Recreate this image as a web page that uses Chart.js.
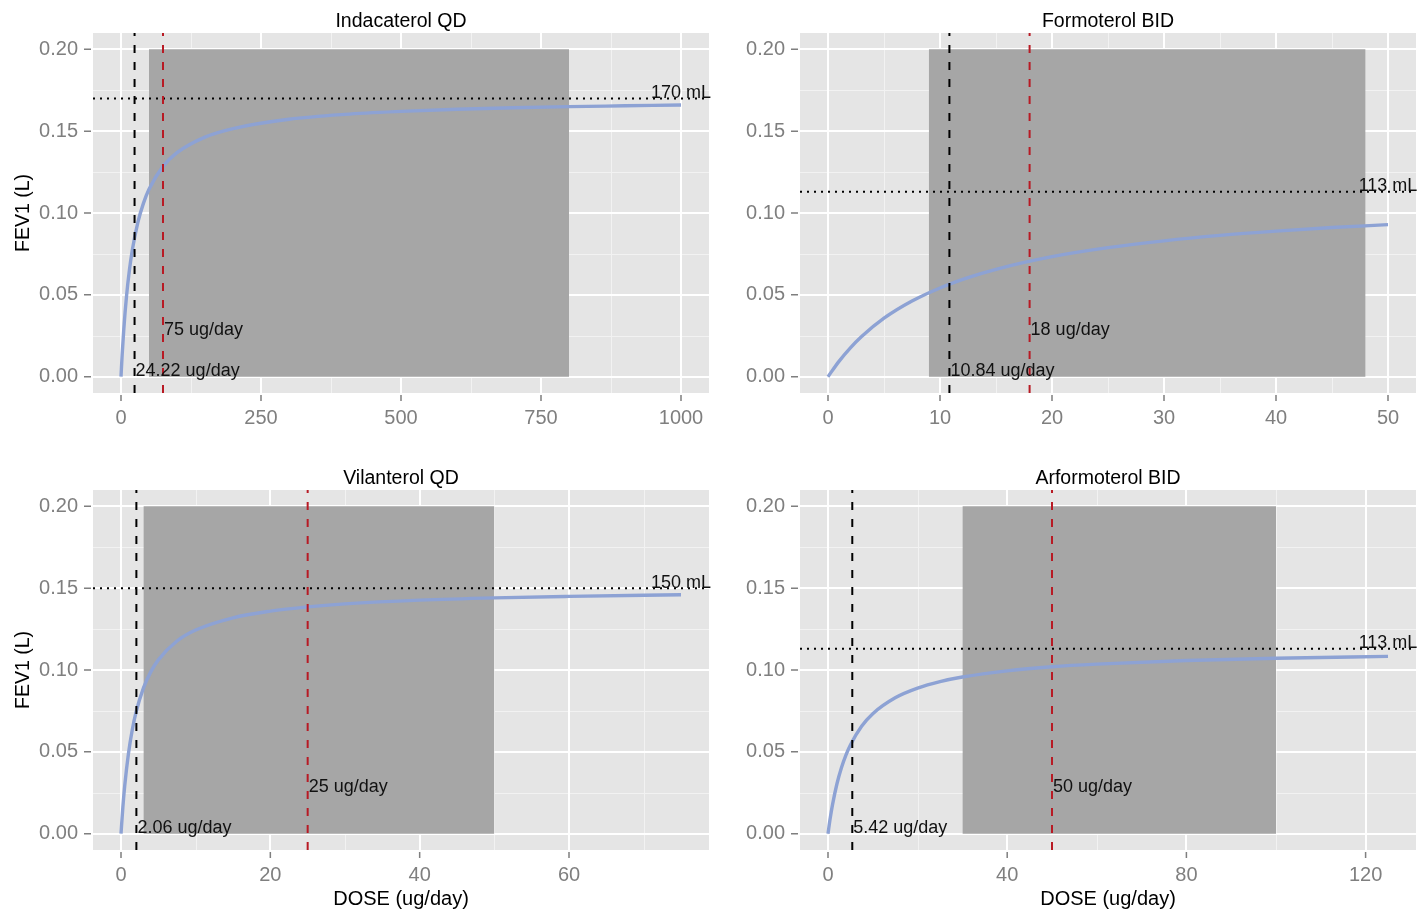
<!DOCTYPE html>
<html><head><meta charset="utf-8">
<script src="https://cdn.jsdelivr.net/npm/chart.js@4.4.0/dist/chart.umd.min.js"></script>
<style>
html,body{margin:0;padding:0;background:#fff;width:1423px;height:911px;overflow:hidden}
canvas{position:absolute}
</style></head><body>
<canvas id="c0" style="left:0px;top:0px" width="711" height="445"></canvas>
<canvas id="c1" style="left:711px;top:0px" width="712" height="445"></canvas>
<canvas id="c2" style="left:0px;top:445px" width="711" height="466"></canvas>
<canvas id="c3" style="left:711px;top:445px" width="712" height="466"></canvas>
<script>
// ---------- data ----------
const panelTitles = ['Indacaterol QD', 'Formoterol BID', 'Vilanterol QD', 'Arformoterol BID'];

const doseIndacaterol = [0, 2, 5, 10, 15, 20, 30, 40, 50, 75, 100, 150, 200, 300, 400, 500, 600, 700, 800, 900, 1000];
const fevIndacaterol  = [0, 0.0130, 0.0291, 0.0497, 0.0650, 0.0769, 0.0941, 0.1059, 0.1145, 0.1285, 0.1369, 0.1464, 0.1516, 0.1573, 0.1603, 0.1621, 0.1634, 0.1643, 0.1650, 0.1655, 0.1660];

const doseFormoterol = [0, 1, 2, 3, 5, 7.5, 10, 12.5, 15, 20, 25, 30, 35, 40, 45, 50];
const fevFormoterol  = [0, 0.0095, 0.0176, 0.0245, 0.0357, 0.0462, 0.0542, 0.0605, 0.0656, 0.0733, 0.0788, 0.0830, 0.0863, 0.0889, 0.0911, 0.0929];

const doseVilanterol = [0, 0.25, 0.5, 1, 1.5, 2, 3, 4, 5, 7.5, 10, 15, 20, 25, 30, 40, 50, 60, 75];
const fevVilanterol  = [0, 0.0162, 0.0293, 0.0490, 0.0632, 0.0739, 0.0889, 0.0990, 0.1062, 0.1177, 0.1244, 0.1319, 0.1360, 0.1386, 0.1404, 0.1427, 0.1441, 0.1450, 0.1460];

const doseArformoterol = [0, 0.5, 1, 2, 3, 4, 5, 7.5, 10, 15, 20, 25, 30, 40, 50, 60, 80, 100, 125];
const fevArformoterol  = [0, 0.0095, 0.0176, 0.0305, 0.0403, 0.0480, 0.0542, 0.0656, 0.0733, 0.0830, 0.0889, 0.0929, 0.0957, 0.0995, 0.1020, 0.1036, 0.1058, 0.1072, 0.1083];

const ed50Dose     = [24.22, 10.84, 2.06, 5.42];    // black dashed lines
const labelDose    = [75, 18, 25, 50];              // red dashed lines
const plateauFev   = [0.170, 0.113, 0.150, 0.113];  // dotted lines
const plateauText  = ['170 mL', '113 mL', '150 mL', '113 mL'];
const rangeStart   = [50, 9, 3, 30];                // grey band
const rangeEnd     = [800, 48, 50, 100];
const rangeTop     = [0.2, 0.2, 0.2, 0.2];
const labelYHigh   = 0.025;
const labelYLow    = 0;

const xTicks1 = [0, 250, 500, 750, 1000];
const xTicks2 = [0, 10, 20, 30, 40, 50];
const xTicks3 = [0, 20, 40, 60];
const xTicks4 = [0, 40, 80, 120];
const xMinor1 = [125, 375, 625, 875];
const xMinor2 = [5, 15, 25, 35, 45];
const xMinor3 = [10, 30, 50, 70];
const xMinor4 = [20, 60, 100];
const xLimits = [[-50, 1050], [-2.5, 52.5], [-3.75, 78.75], [-6.25, 131.25]];
const yTicks = [0, 0.05, 0.10, 0.15, 0.20];
const yTickLabels = ['0.00', '0.05', '0.10', '0.15', '0.20'];
const yMinor = [0.025, 0.075, 0.125, 0.175];
const yLimits = [-0.01, 0.21];
const xAxisTitle = 'DOSE (ug/day)';
const yAxisTitle = 'FEV1 (L)';

// ---------- drawing ----------
const FONT = '"Liberation Sans", Arial, Helvetica, sans-serif';

const ggPlugin = {
  id: 'gg',
  beforeDraw(chart, args, o) {
    const {ctx, chartArea: a, scales: {x, y}} = chart;
    ctx.save();
    ctx.fillStyle = '#E5E5E5';
    ctx.fillRect(a.left, a.top, a.right - a.left, a.bottom - a.top);
    ctx.strokeStyle = '#F2F2F2';
    ctx.lineWidth = 1;
    ctx.beginPath();
    o.xMinor.forEach(v => { const p = Math.round(x.getPixelForValue(v)) + 0.5; ctx.moveTo(p, a.top); ctx.lineTo(p, a.bottom); });
    o.yMinor.forEach(v => { const p = Math.round(y.getPixelForValue(v)) + 0.5; ctx.moveTo(a.left, p); ctx.lineTo(a.right, p); });
    ctx.stroke();
    ctx.strokeStyle = '#7F7F7F';
    ctx.lineWidth = 1.5;
    ctx.beginPath();
    o.xTicks.forEach(v => { const p = x.getPixelForValue(v); ctx.moveTo(p, a.bottom + 2); ctx.lineTo(p, a.bottom + 8); });
    o.yTicks.forEach(v => { const p = y.getPixelForValue(v); ctx.moveTo(a.left - 2, p); ctx.lineTo(a.left - 9, p); });
    ctx.stroke();
    ctx.fillStyle = '#000';
    ctx.font = '19.5px ' + FONT;
    ctx.textAlign = 'center';
    ctx.textBaseline = 'alphabetic';
    ctx.fillText(o.title, (a.left + a.right) / 2, a.top - 6.5);
    ctx.restore();
  },
  afterDatasetsDraw(chart, args, o) {
    const {ctx, scales: {x, y}} = chart;
    ctx.save();
    ctx.fillStyle = '#111';
    ctx.font = '18px ' + FONT;
    ctx.textBaseline = 'alphabetic';
    o.labels.forEach(l => {
      ctx.textAlign = l.align;
      ctx.fillText(l.text, x.getPixelForValue(l.x) + (l.align === 'left' ? 1 : 0), y.getPixelForValue(l.y) - 0.5);
    });
    ctx.restore();
  }
};

function pts(xs, ys) { return xs.map((v, i) => ({x: v, y: ys[i]})); }

function makePanel(i, canvasId, dose, fev, xTicks, xMinor, isLeft, isBottom, padTop, padRight, yW, xH) {
  const lim = xLimits[i];
  const xMax = dose[dose.length - 1];
  const common = {showLine: true, pointRadius: 0, pointHoverRadius: 0, fill: false};
  new Chart(document.getElementById(canvasId), {
    type: 'scatter',
    data: {
      datasets: [
        Object.assign({}, common, {
          data: [{x: rangeStart[i], y: rangeTop[i]}, {x: rangeEnd[i], y: rangeTop[i]}],
          fill: 'origin', backgroundColor: '#A6A6A6', borderWidth: 0, borderColor: 'rgba(0,0,0,0)', order: 5
        }),
        Object.assign({}, common, {
          data: pts(dose, fev), borderColor: '#8DA2D4', borderWidth: 3.4,
          cubicInterpolationMode: 'monotone', order: 4
        }),
        Object.assign({}, common, {
          data: [{x: lim[0], y: plateauFev[i]}, {x: lim[1], y: plateauFev[i]}],
          borderColor: '#000', borderWidth: 2, borderDash: [2, 5], order: 3
        }),
        Object.assign({}, common, {
          data: [{x: ed50Dose[i], y: yLimits[0]}, {x: ed50Dose[i], y: yLimits[1]}],
          borderColor: '#000', borderWidth: 2, borderDash: [8, 9], order: 2
        }),
        Object.assign({}, common, {
          data: [{x: labelDose[i], y: yLimits[0]}, {x: labelDose[i], y: yLimits[1]}],
          borderColor: '#B81A24', borderWidth: 2, borderDash: [8, 9], order: 1
        })
      ]
    },
    options: {
      responsive: false, animation: false, devicePixelRatio: 1, events: [],
      layout: {padding: {top: padTop, right: padRight, left: 0, bottom: 0}},
      plugins: {
        legend: {display: false}, tooltip: {enabled: false},
        gg: {
          title: panelTitles[i], xTicks: xTicks, xMinor: xMinor, yTicks: yTicks, yMinor: yMinor,
          labels: [
            {text: plateauText[i], x: xMax, y: plateauFev[i], align: 'center'},
            {text: labelDose[i] + ' ug/day', x: labelDose[i], y: labelYHigh, align: 'left'},
            {text: ed50Dose[i] + ' ug/day', x: ed50Dose[i], y: labelYLow, align: 'left'}
          ]
        }
      },
      scales: {
        x: {
          type: 'linear', min: lim[0], max: lim[1],
          afterBuildTicks: s => { s.ticks = xTicks.map(v => ({value: v})); },
          afterFit: s => { s.height = xH; s.paddingLeft = 0; s.paddingRight = 0; s.paddingTop = 0; s.paddingBottom = 0; },
          grid: {color: '#FFFFFF', lineWidth: 2, drawTicks: false},
          border: {display: false},
          ticks: {color: '#7F7F7F', font: {family: FONT, size: 20}, padding: 13, maxRotation: 0, minRotation: 0, autoSkip: false,
                  callback: v => String(v)},
          title: {display: isBottom, text: xAxisTitle, color: '#000', font: {family: FONT, size: 20}, padding: {top: 0, bottom: 0}}
        },
        y: {
          type: 'linear', min: yLimits[0], max: yLimits[1],
          afterBuildTicks: s => { s.ticks = yTicks.map(v => ({value: v})); },
          afterFit: s => { s.width = yW; s.paddingLeft = 0; s.paddingRight = 0; s.paddingTop = 0; s.paddingBottom = 0; },
          grid: {color: '#FFFFFF', lineWidth: 2, drawTicks: false},
          border: {display: false},
          ticks: {color: '#7F7F7F', font: {family: FONT, size: 20}, padding: 15, autoSkip: false,
                  callback: (v, idx) => yTickLabels[idx]},
          title: {display: isLeft, text: yAxisTitle, color: '#000', font: {family: FONT, size: 19.5}, padding: {top: 12, bottom: 0}}
        }
      }
    },
    plugins: [ggPlugin]
  });
}

makePanel(0, 'c0', doseIndacaterol, fevIndacaterol, xTicks1, xMinor1, true, false, 33, 2, 93, 52);
makePanel(1, 'c1', doseFormoterol, fevFormoterol, xTicks2, xMinor2, false, false, 33, 7, 89, 52);
makePanel(2, 'c2', doseVilanterol, fevVilanterol, xTicks3, xMinor3, true, true, 45, 2, 93, 61);
makePanel(3, 'c3', doseArformoterol, fevArformoterol, xTicks4, xMinor4, false, true, 45, 7, 89, 61);
</script>
</body></html>
